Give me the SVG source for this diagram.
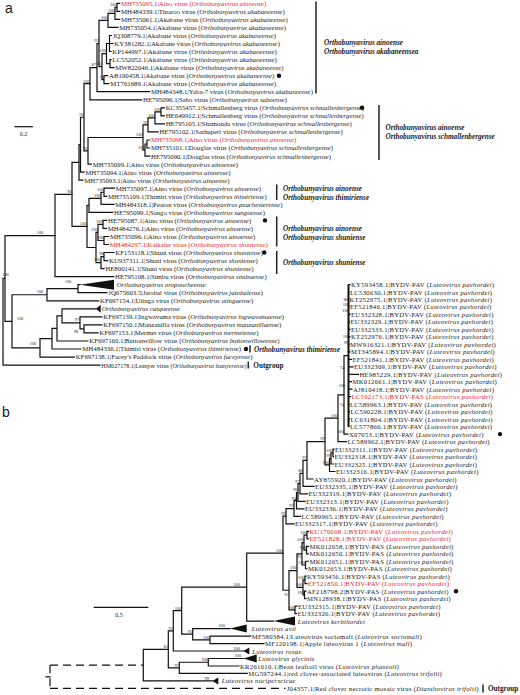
<svg xmlns="http://www.w3.org/2000/svg" width="520" height="695" viewBox="0 0 520 695">
<style>
text{font-family:"Liberation Serif","Times New Roman",serif;fill:#1a1a1a}
.a{font-size:6.8px}
.a6{font-size:6.1px}
.b{font-size:6.7px;letter-spacing:0.28px}
.r{fill:#e4262c}
.i{font-style:italic}
.g{font-size:7.2px;font-weight:bold;font-style:italic}
.og{font-size:7.2px;font-weight:bold}
.bs{font-size:4.4px;text-anchor:end}
.bm{font-size:4.4px;text-anchor:middle}
.sc{font-size:6px;text-anchor:middle}
.br{fill:none;stroke:#111;stroke-width:1.2;stroke-linecap:square}
.dash{fill:none;stroke:#111;stroke-width:1.2;stroke-dasharray:8 5}
.gb{stroke:#222;stroke-width:1.5}
.tri,.dot{fill:#111}
.pl{font-family:"Liberation Sans",Arial,sans-serif;font-size:14px}
</style>
<rect width="520" height="695" fill="#fff"/>
<text class="pl" x="5" y="13">a</text>
<text class="pl" x="2" y="417">b</text>

<g id="connectors">
<path class="br" d="M117 3.3V11.3M117 3.3H119.7M117 11.3H119.7M115 7.3V19.4M115 7.3H117M115 19.4H119.7M108 13.35V27.4M108 13.35H115M108 27.4H118M109.5 35.5V51.5M109.5 35.5H111.4M109.5 43.5H113M109.5 51.5H111M110 59.6V67.6M110 59.6H111M110 67.6H114M106.5 43.5V63.6M106.5 43.5H109.5M106.5 63.6H110M104 75.7V83.7M104 75.7H107.7M104 83.7H109M102 53.55V79.7M102 53.55H106.5M102 79.7H104M99 20.4V66.6M99 20.4H108M99 66.6H102M97 43.5V91.7M97 43.5H99M97 91.7H149.7M90 67.6V99.8M90 67.6H97M90 99.8H141.7"/>
<path class="br" d="M161 107.8V115.9M161 107.8H164.4M161 115.9H164.4M155 111.85V123.9M155 111.85H161M155 123.9H164.4M148 117.9V131.9M148 117.9H155M148 131.9H158M147 140V148M147 140H149.7M147 148H149.7M145 144V156.1M145 144H147M145 156.1H149.7M143 124.9V150.05M143 124.9H148M143 150.05H145M88 137.5V164.1M88 137.5H143M88 164.1H91.4M84 83.7V150.8M84 83.7H90M84 150.8H88M80.5 117.25V172.1M80.5 117.25H84M80.5 172.1H84M79 144.7V180.2M79 144.7H80.5M79 180.2H83M72 162.45V226.4M72 162.45H79M72 226.4H87"/>
<path class="br" d="M104 188.2V196.3M104 188.2H114.4M104 196.3H106.7M101 192.25V204.3M101 192.25H104M101 204.3H114M89 198.3V212.3M89 198.3H101M89 212.3H112.7M103 220.4V228.4M103 220.4H106.7M103 228.4H106.4M104 236.5V244.5M104 236.5H108.7M104 244.5H108.4M98 224.4V240.5M98 224.4H103M98 240.5H104M104 252.5V260.6M104 252.5H114M104 260.6H107.7M101 256.55V268.6M101 256.55H104M101 268.6H104M96 232.45V262.6M96 232.45H98M96 262.6H101M87 205.3V247.5M87 205.3H89M87 247.5H96M55 194.45V276.7M55 194.45H72M55 276.7H113.7"/>
<path class="br" d="M78 284.7V292.7M78 284.7H80M78 292.7H107M47 288.7V300.8M47 288.7H78M47 300.8H98.7M84 324.9V332.9M84 324.9H102M84 332.9H98M80 316.9V328.9M80 316.9H102M80 328.9H84M62 308.8V322.9M62 308.8H96M62 322.9H80M57 315.85V341M57 315.85H62M57 341H88M52 328.4V349M52 328.4H57M52 349H81M40 338.7V357.1M40 338.7H52M40 357.1H74.4M12 294.75V347.9M12 294.75H47M12 347.9H40M5 235.6V321.3M5 235.6H55M5 321.3H12M3 278.45V365.1M3 278.45H5M3 365.1H100"/>
<polygon class="tri" points="80,284.7 114,279.7 114,289.7"/>
<polygon class="tri" points="96,308.8 100.7,304.8 100.7,312.8"/>
<line class="gb" x1="316" y1="1.5" x2="316" y2="93.5"/>
<line class="gb" x1="379" y1="105" x2="379" y2="160"/>
<line class="gb" x1="276.7" y1="184.5" x2="276.7" y2="200"/>
<line class="gb" x1="276.7" y1="216.5" x2="276.7" y2="246.5"/>
<line class="gb" x1="276.7" y1="251" x2="276.7" y2="274"/>
<line class="gb" x1="250" y1="345.5" x2="250" y2="352.5"/>
<line class="gb" x1="248.3" y1="361.5" x2="248.3" y2="368.5"/>

<path fill="none" stroke="#111" stroke-width="2" d="M348.5 284.5V426.6"/>
<path class="br" d="M348.5 284.5H350M348.5 292H349M348.5 306.9H349M348.5 314.4H350M348.5 321.9H349.5M348.5 329.4H350M348.5 336.9H350M348.5 344.3H349M348.5 351.8H350M348.5 359.3H351.5M348.5 366.8H353M348.5 374.3H358.5M348.5 381.7H351.5M348.5 389.2H352M348.5 396.7H350.5M348.5 404.2H349M348.5 411.7H349.5M348.5 419.1H349.5M348.5 426.6H349"/>
<path class="br" d="M344 355.56V434.1M344 355.56H348.5M344 434.1H348M338 394.83V441.58M338 394.83H344M338 441.58H346.5M333 449.06V456.54M333 449.06H334M333 456.54H333.5M331 452.8V464.02M331 452.8H333M331 464.02H333.5M329.5 458.41V471.5M329.5 458.41H331M329.5 471.5H335M325 418.2V464.96M325 418.2H338M325 464.96H329.5M307 441.58V478.98M307 441.58H325M307 478.98H313M303 460.28V486.46M303 460.28H307M303 486.46H314M300 473.37V493.94M300 473.37H303M300 493.94H307.5M298 483.66V501.42M298 483.66H300M298 501.42H305M296.5 492.54V508.9M296.5 492.54H298M296.5 508.9H304M294 500.72V516.38M294 500.72H296.5M294 516.38H300.5M286 508.55V523.86M286 508.55H294M286 523.86H294"/>
<path class="br" d="M307 531.34V538.82M307 531.34H308.5M307 538.82H308.5M306.5 546.3V553.78M306.5 546.3H308.5M306.5 553.78H308.5M305.5 561.26V568.74M305.5 561.26H308.5M305.5 568.74H307M304 535.08V550.04M304 535.08H307M304 550.04H306.5M302 542.56V565M302 542.56H304M302 565H305.5M305 576.22V583.7M305 576.22H306M305 583.7H307M304.5 591.18V598.66M304.5 591.18H306M304.5 598.66H306M303 579.96V594.92M303 579.96H305M303 594.92H304.5M297 553.78V587.44M297 553.78H302M297 587.44H303M295 606.14V613.62M295 606.14H297M295 613.62H296.5M289 570.61V609.88M289 570.61H297M289 609.88H295M283 516.2V590.25M283 516.2H286M283 590.25H289"/>
<path class="br" d="M246.7 553.22V621.1M246.7 553.22H283M246.7 621.1H273.3M210 636.06V643.54M210 636.06H250.7M210 643.54H264M192.7 628.58V639.8M192.7 628.58H230M192.7 639.8H210M181.7 587.16V634.19M181.7 587.16H246.7M181.7 634.19H192.7M173.3 610.68V651.02M173.3 610.68H181.7M173.3 651.02H243.3M208.3 658.5V665.98M208.3 658.5H243.3M208.3 665.98H239M179.3 662.24V673.46M179.3 662.24H208.3M179.3 673.46H247.3M168.3 630.85V667.85M168.3 630.85H173.3M168.3 667.85H179.3M143.3 649.35V680.94M143.3 649.35H168.3M143.3 680.94H212.3M46 676.8H50"/>
<path class="dash" d="M50 665.15V688.42M50 665.15H143.3M50 688.42H285.5"/>
<polygon class="tri" points="273.3,621.1 295,616.6 295,625.6"/>
<polygon class="tri" points="230,628.58 246.7,624.6 246.7,632.6"/>
<polygon class="tri" points="243.3,651.02 249.3,647.5 249.3,654.5"/>
<polygon class="tri" points="243.3,658.5 256.7,654.5 256.7,662.5"/>
<polygon class="tri" points="212.3,680.94 218.3,677.4 218.3,684.4"/>
<line class="gb" x1="483" y1="684.5" x2="483" y2="692.5"/>
</g>

<g id="bootstrap-a">
<text class="bs" x="116.7" y="6.1">100</text><text class="bs" x="114.7" y="12.2">100</text><text class="bs" x="107.7" y="19.2">100</text>
<text class="bs" x="106.2" y="52.4">100</text><text class="bs" x="103.7" y="78.5">74</text><text class="bs" x="101.7" y="65.4">85</text>
<text class="bs" x="98.7" y="42.3">93</text><text class="bs" x="96.2" y="66.4">87</text><text class="bs" x="89.7" y="82.5">100</text>
<text class="bs" x="160.7" y="110.7">100</text><text class="bs" x="154.7" y="116.7">100</text><text class="bs" x="147.7" y="123.7">93</text>
<text class="bs" x="144.7" y="148.9">100</text><text class="bs" x="142.7" y="136.3">100</text><text class="bs" x="87.7" y="149.6">93</text>
<text class="bs" x="83.7" y="116">90</text><text class="bs" x="71.7" y="193.3">96</text>
<text class="bs" x="103.7" y="191.1">100</text><text class="bs" x="100.7" y="197.1">100</text><text class="bs" x="86.7" y="225.2">100</text>
<text class="bs" x="102.7" y="223.2">100</text><text class="bs" x="103.7" y="239.3">100</text><text class="bs" x="97.7" y="231.3">100</text>
<text class="bs" x="103.7" y="255.4">98</text><text class="bs" x="100.7" y="261.4">100</text>
<text class="bm" x="40" y="234">100</text><text class="bm" x="5.5" y="276">100</text>
<text class="bm" x="68" y="283.3">100</text><text class="bm" x="40" y="293">100</text><text class="bm" x="20" y="320">100</text>
<text class="bm" x="77" y="321">97</text><text class="bm" x="76" y="333">98</text><text class="bm" x="33" y="345">100</text>
</g>
<g id="bootstrap-b">
<text class="bm" x="346" y="301">86</text><text class="bm" x="346" y="306">100</text><text class="bm" x="345.5" y="311.5">100</text>
<text class="bm" x="346" y="338">100</text><text class="bm" x="346" y="343.6">99</text><text class="bm" x="342" y="369">74</text>
<text class="bm" x="342" y="387">100</text><text class="bm" x="342" y="406">74</text>
<text class="bs" x="343.7" y="432.6">100</text><text class="bs" x="337.7" y="417">100</text>
<text class="bs" x="332.7" y="451.6">100</text><text class="bs" x="330.7" y="457.2">99</text><text class="bs" x="329.2" y="463.8">100</text>
<text class="bs" x="324.7" y="440.4">99</text><text class="bs" x="306.7" y="459.1">97</text><text class="bs" x="302.7" y="472.2">88</text>
<text class="bs" x="299.7" y="482.5">97</text><text class="bs" x="297.7" y="491.3">96</text><text class="bs" x="296.2" y="499.5">94</text>
<text class="bs" x="293.7" y="507.4">97</text><text class="bs" x="285.7" y="515">99</text>
<text class="bs" x="306.7" y="533.9">100</text><text class="bs" x="303.7" y="541.4">100</text><text class="bs" x="306.2" y="548.8">100</text>
<text class="bs" x="301.5" y="557.5">95</text><text class="bs" x="305.2" y="563.8">100</text><text class="bs" x="304.7" y="578.8">100</text>
<text class="bs" x="302.7" y="586.2">100</text><text class="bs" x="304.2" y="593.7">100</text><text class="bs" x="296.7" y="569.4">100</text>
<text class="bs" x="294.7" y="608.7">100</text><text class="bs" x="288.7" y="596">95</text><text class="bs" x="282.7" y="552">100</text>
<text class="bm" x="236.7" y="585.5">100</text><text class="bs" x="181.4" y="609.5">100</text><text class="bs" x="192.4" y="633">95</text>
<text class="bs" x="209.7" y="638.6">100</text><text class="bm" x="221.7" y="627">100</text><text class="bs" x="173" y="629.6">91</text>
<text class="bm" x="236.7" y="649.5">100</text><text class="bs" x="168" y="648.1">85</text><text class="bs" x="208" y="661">100</text>
<text class="bm" x="237.7" y="657">100</text><text class="bs" x="179" y="666.6">97</text><text class="bm" x="206.7" y="679.5">99</text>
</g>

<g id="scale-a"><line class="br" x1="15" y1="126.7" x2="32.3" y2="126.7"/><text class="sc" x="23.6" y="136">0.2</text></g>
<g id="scale-b"><line class="br" x1="94.3" y1="607.3" x2="147.7" y2="607.3"/><text class="sc" x="119" y="617">0.5</text></g>

<g id="a01"><text class="a r" x="121" y="5.7">MH735095.1|Aino virus (<tspan class="i">Orthobunyavirus ainoense</tspan>)</text></g>
<g id="a02"><text class="a" x="121" y="13.7">MH484339.1|Tinaroo virus (<tspan class="i">Orthobunyavirus akabaneense</tspan>)</text></g>
<g id="a03"><text class="a" x="121" y="21.8">MH735061.1|Akabane virus (<tspan class="i">Orthobunyavirus akabaneense</tspan>)</text></g>
<g id="a04"><text class="a" x="119.3" y="29.8">MH735054.1|Akabane virus (<tspan class="i">Orthobunyavirus akabaneense</tspan>)</text></g>
<g id="a05"><text class="a" x="112.7" y="37.9">JQ308779.1|Akabane virus (<tspan class="i">Orthobunyavirus akabaneense</tspan>)</text></g>
<g id="a06"><text class="a" x="114.3" y="45.9">KY381282.1|Akabane virus (<tspan class="i">Orthobunyavirus akabaneense</tspan>)</text></g>
<g id="a07"><text class="a" x="112.3" y="53.9">KP144997.1|Akabane virus (<tspan class="i">Orthobunyavirus akabaneense</tspan>)</text></g>
<g id="a08"><text class="a" x="112.3" y="62">LC552052.1|Akabane virus (<tspan class="i">Orthobunyavirus akabaneense</tspan>)</text></g>
<g id="a09"><text class="a" x="115.3" y="70">MW822046.1|Akabane virus (<tspan class="i">Orthobunyavirus akabaneense</tspan>)</text></g>
<g id="a10"><text class="a" x="109" y="78.1">AB190458.1|Akabane virus (<tspan class="i">Orthobunyavirus akabaneense</tspan>)</text><circle class="dot" cx="279" cy="75.7" r="2.2"/></g>
<g id="a11"><text class="a" x="110.3" y="86.1">MT761689.1|Akabane virus (<tspan class="i">Orthobunyavirus akabaneense</tspan>)</text></g>
<g id="a12"><text class="a" x="151" y="94.1">MH484348.1|Yaba-7 virus (<tspan class="i">Orthobunyavirus akabaneense</tspan>)</text></g>
<g id="a13"><text class="a" x="143" y="102.2">HE795096.1|Sabo virus (<tspan class="i">Orthobunyavirus saboense</tspan>)</text></g>
<g id="a14"><text class="a" x="165.7" y="110.2">KC355457.1|Schmallenberg virus (<tspan class="i">Orthobunyavirus schmallenbergense</tspan>)</text><circle class="dot" cx="362" cy="107.8" r="2.2"/></g>
<g id="a15"><text class="a" x="165.7" y="118.3">HE649912.1|Schmallenberg virus (<tspan class="i">Orthobunyavirus schmallenbergense</tspan>)</text></g>
<g id="a16"><text class="a" x="165.7" y="126.3">HE795105.1|Shamonda virus (<tspan class="i">Orthobunyavirus schmallenbergense</tspan>)</text></g>
<g id="a17"><text class="a" x="159.3" y="134.3">HE795102.1|Sathuperi virus (<tspan class="i">Orthobunyavirus schmallenbergense</tspan>)</text></g>
<g id="a18"><text class="a r" x="151" y="142.4">MH735098.1|Aino virus (<tspan class="i">Orthobunyavirus ainoense</tspan>)</text></g>
<g id="a19"><text class="a" x="151" y="150.4">MH735101.1|Douglas virus (<tspan class="i">Orthobunyavirus schmallenbergense</tspan>)</text></g>
<g id="a20"><text class="a" x="151" y="158.5">HE795090.1|Douglas virus (<tspan class="i">Orthobunyavirus schmallenbergense</tspan>)</text></g>
<g id="a21"><text class="a" x="92.7" y="166.5">MH735099.1|Aino virus (<tspan class="i">Orthobunyavirus ainoense</tspan>)</text></g>
<g id="a22"><text class="a" x="85.3" y="174.5">MH735094.1|Aino virus (<tspan class="i">Orthobunyavirus ainoense</tspan>)</text></g>
<g id="a23"><text class="a" x="84.3" y="182.6">MH735093.1|Aino virus (<tspan class="i">Orthobunyavirus ainoense</tspan>)</text></g>
<g id="a24"><text class="a" x="115.7" y="190.6">MH735097.1|Aino virus (<tspan class="i">Orthobunyavirus ainoense</tspan>)</text></g>
<g id="a25"><text class="a" x="108" y="198.7">MH735109.1|Thimiri virus (<tspan class="i">Orthobunyavirus thimiriense</tspan>)</text></g>
<g id="a26"><text class="a" x="115.3" y="206.7">MH484318.1|Peaton virus (<tspan class="i">Orthobunyavirus peachesterense</tspan>)</text></g>
<g id="a27"><text class="a" x="114" y="214.7">HE795099.1|Sango virus (<tspan class="i">Orthobunyavirus sangoense</tspan>)</text></g>
<g id="a28"><text class="a" x="108" y="222.8">HE795087.1|Aino virus (<tspan class="i">Orthobunyavirus ainoense</tspan>)</text><circle class="dot" cx="265" cy="220.4" r="2.2"/></g>
<g id="a29"><text class="a" x="107.7" y="230.8">MH484276.1|Aino virus (<tspan class="i">Orthobunyavirus ainoense</tspan>)</text></g>
<g id="a30"><text class="a" x="110" y="238.9">MH735096.1|Aino virus (<tspan class="i">Orthobunyavirus ainoense</tspan>)</text></g>
<g id="a31"><text class="a r" x="109.7" y="246.9">MH484297.1|Kaikalur virus (<tspan class="i">Orthobunyavirus shuniense</tspan>)</text></g>
<g id="a32"><text class="a" x="115.3" y="254.9">KF153118.1|Shuni virus (<tspan class="i">Orthobunyavirus shuniense</tspan>)</text><circle class="dot" cx="264.3" cy="252.5" r="2.2"/></g>
<g id="a33"><text class="a" x="109" y="263">KU937311.1|Shuni virus (<tspan class="i">Orthobunyavirus shuniense</tspan>)</text></g>
<g id="a34"><text class="a" x="105.3" y="271">HE800141.1|Shuni virus (<tspan class="i">Orthobunyavirus shuniense</tspan>)</text></g>
<g id="a35"><text class="a" x="115" y="279.1">HE795108.1|Simbu virus (<tspan class="i">Orthobunyavirus simbuense</tspan>)</text></g>
<g id="a36"><text class="a i" x="116.7" y="287.1">Orthobunyavirus oropoucheense</text></g>
<g id="a37"><text class="a" x="108.3" y="295.1">JQ675603.5|Jatobal virus (<tspan class="i">Orthobunyavirus jatobalense</tspan>)</text></g>
<g id="a38"><text class="a" x="100" y="303.2">KF697154.1|Utinga virus (<tspan class="i">Orthobunyavirus utingaense</tspan>)</text></g>
<g id="a39"><text class="a i" x="101.7" y="311.2">Orthobunyavirus catqueense</text></g>
<g id="a40"><text class="a" x="103.3" y="319.3">KF697139.1|Ingwavuma virus (<tspan class="i">Orthobunyavirus ingwavumaense</tspan>)</text></g>
<g id="a41"><text class="a" x="103.3" y="327.3">KF697150.1|Manzanilla virus (<tspan class="i">Orthobunyavirus manzanillaense</tspan>)</text></g>
<g id="a42"><text class="a" x="99.3" y="335.3">KF697153.1|Mermet virus (<tspan class="i">Orthobunyavirus mermetense</tspan>)</text></g>
<g id="a43"><text class="a" x="89.3" y="343.4">KF697160.1|Buttonwillow virus (<tspan class="i">Orthobunyavirus buttonwillowense</tspan>)</text></g>
<g id="a44"><text class="a" x="82.3" y="351.4">MH484336.1|Thimiri virus (<tspan class="i">Orthobunyavirus thimiriense</tspan>)</text><circle class="dot" cx="246" cy="349" r="2.2"/></g>
<g id="a45"><text class="a" x="75.7" y="359.3">KF697138.1|Facey's Paddock virus (<tspan class="i">Orthobunyavirus faceyense</tspan>)</text></g>
<g id="a46"><text class="a6" x="101.3" y="367.6">HM627178.1|Leanyer virus (<tspan class="i">Orthobunyavirus leanyerense</tspan>)</text></g>

<g id="grp-a1"><text class="g" x="324" y="44.8">Orthobunyavirus ainoense</text><text class="g" x="324" y="53.5">Orthobunyavirus akabaneensea</text></g>
<g id="grp-a2"><text class="g" x="385.5" y="129.6">Orthobunyavirus ainoense</text><text class="g" x="385.5" y="138.6">Orthobunyavirus schmallenbergense</text></g>
<g id="grp-a3"><text class="g" x="283" y="191.4">Orthobunyavirus ainoense</text><text class="g" x="283" y="200.1">Orthobunyavirus thimiriense</text></g>
<g id="grp-a4"><text class="g" x="283" y="230.7">Orthobunyavirus ainoense</text><text class="g" x="283" y="239.7">Orthobunyavirus shuniense</text></g>
<g id="grp-a5"><text class="g" x="283" y="264.7">Orthobunyavirus shuniense</text></g>
<g id="grp-a6"><text class="g" x="254" y="351.5">Orthobunyavirus thimiriense</text></g>
<g id="grp-a7"><text class="og" x="253.3" y="367.6">Outgroup</text></g>

<g id="b01"><text class="b" x="351" y="287">KY593458.1|BYDV-PAV (<tspan class="i">Luteovirus pavhordei</tspan>)</text></g>
<g id="b02"><text class="b" x="350" y="294.5">LC530630.1|BYDV-PAV (<tspan class="i">Luteovirus pavhordei</tspan>)</text></g>
<g id="b03"><text class="b" x="349.5" y="302">KT252975.1|BYDV-PAV (<tspan class="i">Luteovirus pavhordei</tspan>)</text></g>
<g id="b04"><text class="b" x="350" y="309.4">EF521846.1|BYDV-PAV (<tspan class="i">Luteovirus pavhordei</tspan>)</text></g>
<g id="b05"><text class="b" x="351" y="316.9">EU332328.1|BYDV-PAV (<tspan class="i">Luteovirus pavhordei</tspan>)</text></g>
<g id="b06"><text class="b" x="350.5" y="324.4">EU332329.1|BYDV-PAV (<tspan class="i">Luteovirus pavhordei</tspan>)</text></g>
<g id="b07"><text class="b" x="351" y="331.9">EU332333.1|BYDV-PAV (<tspan class="i">Luteovirus pavhordei</tspan>)</text></g>
<g id="b08"><text class="b" x="351" y="339.4">KT252976.1|BYDV-PAV (<tspan class="i">Luteovirus pavhordei</tspan>)</text></g>
<g id="b09"><text class="b" x="350" y="346.8">MW916321.1|BYDV-PAV (<tspan class="i">Luteovirus pavhordei</tspan>)</text></g>
<g id="b10"><text class="b" x="351" y="354.3">MT345894.1|BYDV-PAV (<tspan class="i">Luteovirus pavhordei</tspan>)</text></g>
<g id="b11"><text class="b" x="352.5" y="361.8">EF521841.1|BYDV-PAV (<tspan class="i">Luteovirus pavhordei</tspan>)</text></g>
<g id="b12"><text class="b" x="354" y="369.3">EU332309.1|BYDV-PAV (<tspan class="i">Luteovirus pavhordei</tspan>)</text></g>
<g id="b13"><text class="b" x="359.5" y="376.8">HE985229.1|BYDV-PAV (<tspan class="i">Luteovirus pavhordei</tspan>)</text></g>
<g id="b14"><text class="b" x="352.5" y="384.2">MK012661.1|BYDV-PAV (<tspan class="i">Luteovirus pavhordei</tspan>)</text></g>
<g id="b15"><text class="b" x="353" y="391.7">AJ810418.1|BYDV-PAV (<tspan class="i">Luteovirus pavhordei</tspan>)</text></g>
<g id="b16"><text class="b r" x="351.5" y="399.2">LC592173.1|BYDV-PAS (<tspan class="i">Luteovirus pashordei</tspan>)</text></g>
<g id="b17"><text class="b" x="350" y="406.7">LC589963.1|BYDV-PAV (<tspan class="i">Luteovirus pavhordei</tspan>)</text></g>
<g id="b18"><text class="b" x="350.5" y="414.2">LC590228.1|BYDV-PAV (<tspan class="i">Luteovirus pavhordei</tspan>)</text></g>
<g id="b19"><text class="b" x="350.5" y="421.6">LC631804.1|BYDV-PAV (<tspan class="i">Luteovirus pavhordei</tspan>)</text></g>
<g id="b20"><text class="b" x="350" y="429.1">LC577866.1|BYDV-PAV (<tspan class="i">Luteovirus pavhordei</tspan>)</text></g>
<g id="b21"><text class="b" x="349" y="436.6">X07653.1|BYDV-PAV (<tspan class="i">Luteovirus pavhordei</tspan>)</text><circle class="dot" cx="500" cy="434.1" r="2.2"/></g>
<g id="b22"><text class="b" x="347.5" y="444.1">LC589962.1|BYDV-PAV (<tspan class="i">Luteovirus pavhordei</tspan>)</text></g>
<g id="b23"><text class="b" x="335" y="451.6">EU332311.1|BYDV-PAV (<tspan class="i">Luteovirus pavhordei</tspan>)</text></g>
<g id="b24"><text class="b" x="334.5" y="459">EU332318.1|BYDV-PAV (<tspan class="i">Luteovirus pavhordei</tspan>)</text></g>
<g id="b25"><text class="b" x="334.5" y="466.5">EU332325.1|BYDV-PAV (<tspan class="i">Luteovirus pavhordei</tspan>)</text></g>
<g id="b26"><text class="b" x="336" y="474">EU332316.1|BYDV-PAV (<tspan class="i">Luteovirus pavhordei</tspan>)</text></g>
<g id="b27"><text class="b" x="314" y="481.5">AY855920.1|BYDV-PAV (<tspan class="i">Luteovirus pavhordei</tspan>)</text></g>
<g id="b28"><text class="b" x="315" y="489">EU332335.1|BYDV-PAV (<tspan class="i">Luteovirus pavhordei</tspan>)</text></g>
<g id="b29"><text class="b" x="308.5" y="496.4">EU332319.1|BYDV-PAV (<tspan class="i">Luteovirus pavhordei</tspan>)</text></g>
<g id="b30"><text class="b" x="306" y="503.9">EU332313.1|BYDV-PAV (<tspan class="i">Luteovirus pavhordei</tspan>)</text></g>
<g id="b31"><text class="b" x="305" y="511.4">EU332336.1|BYDV-PAV (<tspan class="i">Luteovirus pavhordei</tspan>)</text></g>
<g id="b32"><text class="b" x="301.5" y="518.9">LC589965.1|BYDV-PAV (<tspan class="i">Luteovirus pavhordei</tspan>)</text></g>
<g id="b33"><text class="b" x="295" y="526.4">EU332317.1|BYDV-PAV (<tspan class="i">Luteovirus pavhordei</tspan>)</text></g>
<g id="b34"><text class="b r" x="309.5" y="533.8">KU170668.1|BYDV-PAV (<tspan class="i">Luteovirus pavhordei</tspan>)</text></g>
<g id="b35"><text class="b r" x="309.5" y="541.3">EF521828.1|BYDV-PAV (<tspan class="i">Luteovirus pavhordei</tspan>)</text></g>
<g id="b36"><text class="b" x="309.5" y="548.8">MK012658.1|BYDV-PAS (<tspan class="i">Luteovirus pashordei</tspan>)</text></g>
<g id="b37"><text class="b" x="309.5" y="556.3">MK012650.1|BYDV-PAS (<tspan class="i">Luteovirus pashordei</tspan>)</text></g>
<g id="b38"><text class="b" x="309.5" y="563.8">MK012651.1|BYDV-PAS (<tspan class="i">Luteovirus pashordei</tspan>)</text></g>
<g id="b39"><text class="b" x="308" y="571.2">MK012653.1|BYDV-PAS (<tspan class="i">Luteovirus pashordei</tspan>)</text></g>
<g id="b40"><text class="b" x="307" y="578.7">KY593456.1|BYDV-PAS (<tspan class="i">Luteovirus pashordei</tspan>)</text></g>
<g id="b41"><text class="b r" x="308" y="586.2">EF521850.1|BYDV-PAV (<tspan class="i">Luteovirus pavhordei</tspan>)</text></g>
<g id="b42"><text class="b" x="307" y="593.7">AF218798.2|BYDV-PAS (<tspan class="i">Luteovirus pashordei</tspan>)</text><circle class="dot" cx="456" cy="591.2" r="2.2"/></g>
<g id="b43"><text class="b" x="307" y="601.2">MN128938.1|BYDV-PAS (<tspan class="i">Luteovirus pashordei</tspan>)</text></g>
<g id="b44"><text class="b" x="298" y="608.6">EU332315.1|BYDV-PAV (<tspan class="i">Luteovirus pavhordei</tspan>)</text></g>
<g id="b45"><text class="b" x="297.5" y="616.1">EU332326.1|BYDV-PAV (<tspan class="i">Luteovirus pavhordei</tspan>)</text></g>
<g id="b46"><text class="b i" x="297.7" y="623.6">Luteovirus kerbihordei</text></g>
<g id="b47"><text class="b i" x="251.7" y="631.1">Luteovirus avii</text></g>
<g id="b48"><text class="b" x="251.7" y="638.6">MF580384.1|Luteovirus sociomali (<tspan class="i">Luteovirus sociomali</tspan>)</text></g>
<g id="b49"><text class="b" x="265" y="646">MF120198.1|Apple luteovirus 1 (<tspan class="i">Luteovirus mali</tspan>)</text></g>
<g id="b50"><text class="b i" x="252.3" y="653.5">Luteovirus rosae</text></g>
<g id="b51"><text class="b i" x="258.3" y="661">Luteovirus glycinis</text></g>
<g id="b52"><text class="b" x="240" y="668.5">KR261610.1|Bean leafroll virus (<tspan class="i">Luteovirus phaseoli</tspan>)</text></g>
<g id="b53"><text class="b" x="248.3" y="676">MG597244.1|red clover-associated luteovirus (<tspan class="i">Luteovirus trifolii</tspan>)</text></g>
<g id="b54"><text class="b i" x="221.7" y="683.4">Luteovirus nuciperscicae</text></g>
<g id="b55"><text class="b" x="286.7" y="690.9">J04357.1|Red clover necrotic mosaic virus (<tspan class="i">Dianthovirus trifolii</tspan>)</text><text class="og" x="488" y="690.9">Outgroup</text></g>
</svg>
